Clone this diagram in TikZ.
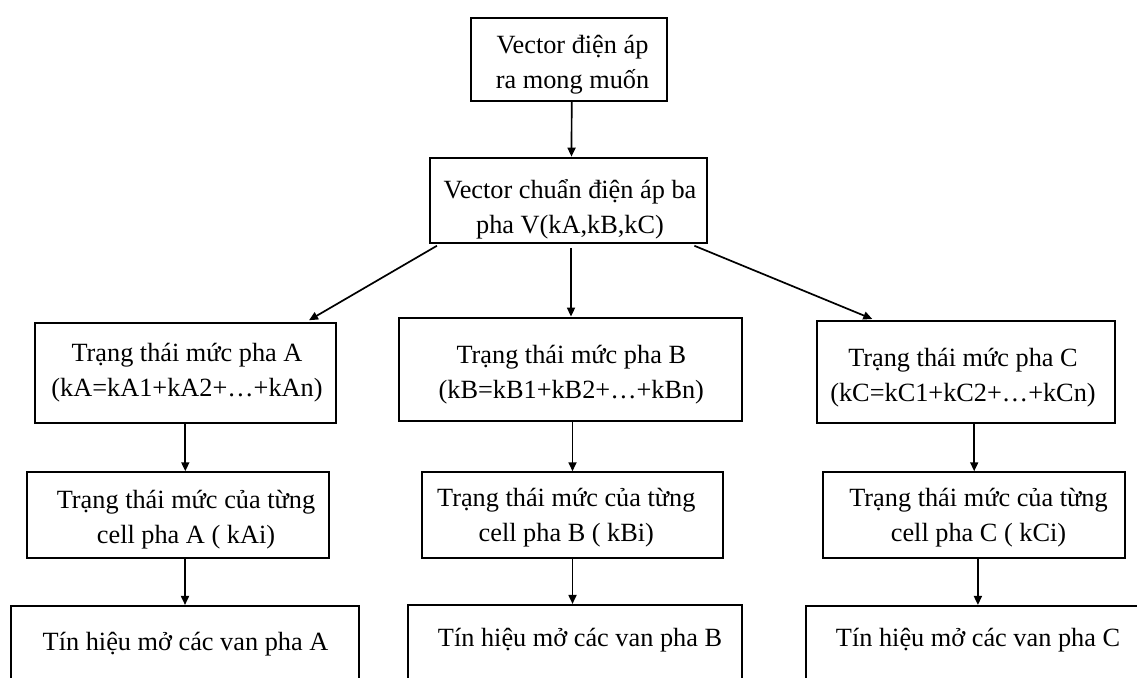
\documentclass[tikz,border=0pt]{standalone}
\usepackage{fontspec}
\setmainfont{Liberation Serif}
\usetikzlibrary{arrows.meta,calc}

\begin{document}
\begin{tikzpicture}[x=1pt,y=-1pt,
  box/.style={draw=black,line width=2.1pt,rectangle,inner sep=0pt},
  txt/.style={align=center,inner sep=0pt,text=black,
    font=\fontsize{26.3}{35}\selectfont},
  arr/.style={line width=1.7pt,-{Triangle[length=9pt,width=8pt]}}]
\useasboundingbox (0,0) rectangle (1137,677);

% boxes
\node[box,minimum width=196pt,minimum height=82.7pt] (top) at (568.7,59.7) {};
\node[box,minimum width=277pt,minimum height=85pt] (vec) at (568.5,200.2) {};

\node[box,minimum width=301.3pt,minimum height=100pt] (a3) at (185.3,373.3) {};
\node[box,minimum width=343.6pt,minimum height=103.3pt] (b3) at (570.5,369.3) {};
\node[box,minimum width=297.7pt,minimum height=102.3pt] (c3) at (966.2,372.2) {};

\node[box,minimum width=302pt,minimum height=86pt] (a4) at (178.3,515.3) {};
\node[box,minimum width=301.6pt,minimum height=86pt] (b4) at (572.5,515.3) {};
\node[box,minimum width=301.7pt,minimum height=86pt] (c4) at (974.2,515.3) {};

\node[box,minimum width=348pt,minimum height=94pt] (a5) at (185,653) {};
\node[box,minimum width=334.6pt,minimum height=95pt] (b5) at (575,652.5) {};
\node[box,minimum width=344.3pt,minimum height=94pt] (c5) at (977.9,653) {};

% labels
\node[txt] (topt) at (572.5,64.4) {Vector điện áp\\ra mong muốn};
\node[txt] (vect) at (570,209) {Vector chuẩn điện áp ba\\pha V(kA,kB,kC)};

\node[txt] (a3t) at (187,373) {Trạng thái mức pha A\\(kA=kA1+kA2+…+kAn)};
\node[txt] (b3t) at (571.3,374.7) {Trạng thái mức pha B\\(kB=kB1+kB2+…+kBn)};
\node[txt] (c3t) at (963,377.6) {Trạng thái mức pha C\\(kC=kC1+kC2+…+kCn)};

\node[txt] (a4t) at (186,519.7) {Trạng thái mức của từng\\cell pha A ( kAi)};
\node[txt] (b4t) at (566.3,517.3) {Trạng thái mức của từng\\cell pha B ( kBi)};
\node[txt] (c4t) at (978.5,517.3) {Trạng thái mức của từng\\cell pha C ( kCi)};

\node[txt] (a5t) at (185.5,644.4) {Tín hiệu mở các van pha A};
\node[txt] (b5t) at (580,640.4) {Tín hiệu mở các van pha B};
\node[txt] (c5t) at (978,640.4) {Tín hiệu mở các van pha C};

% connectors
\draw[arr] ($(top.south)+(3,0)$) -- ($(vec.north)+(3,0)$);
\draw[arr] ($(vec.south west)+(8,2)$) -- ($(a3.north east)+(-28,-2)$);
\draw[arr] ($(vec.south)+(2.5,4)$) -- ($(b3.north)+(0.5,0)$);
\draw[arr] ($(vec.south east)+(-13.7,2)$) -- ($(c3.north west)+(56,-1)$);

\draw[arr] (a3.south) -- (a3.south |- a4.north);
\draw[arr] (b4.north |- b3.south) -- (b4.north);
\draw[arr] (c4.north |- c3.south) -- (c4.north);

\draw[arr] (a5.north |- a4.south) -- (a5.north);
\draw[arr] (b4.south) -- (b4.south |- b5.north);
\draw[arr] (c5.north |- c4.south) -- (c5.north);
\end{tikzpicture}
\end{document}
